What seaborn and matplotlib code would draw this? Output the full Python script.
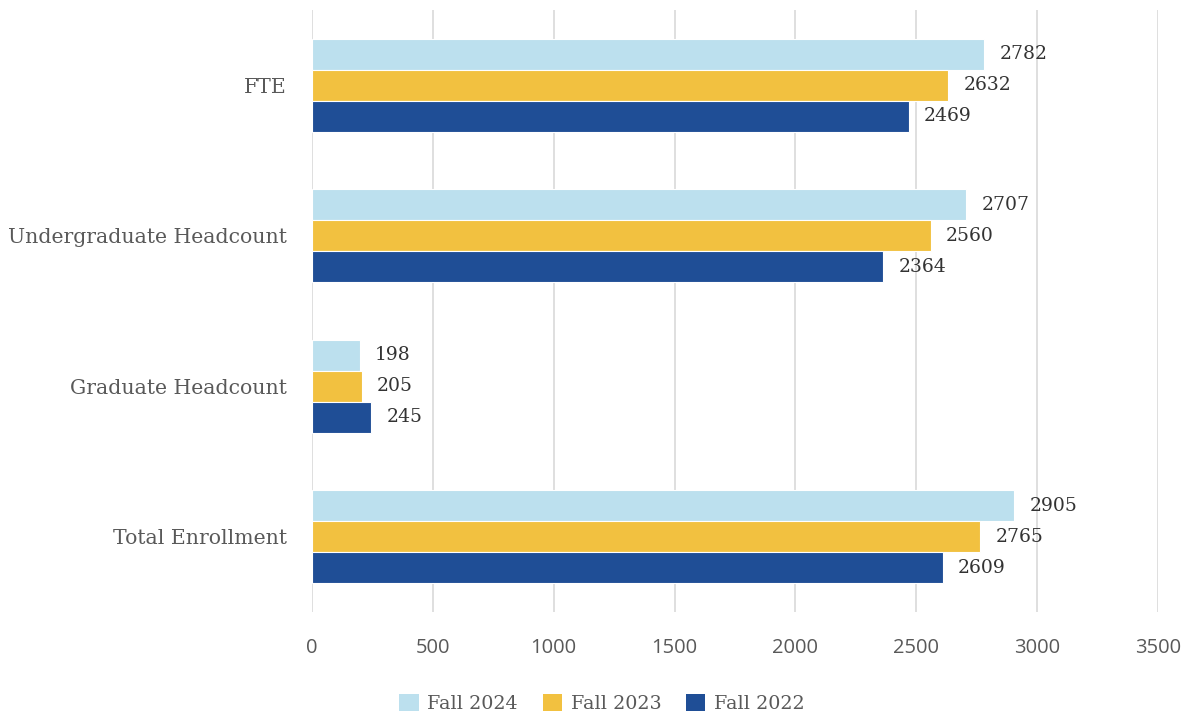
import matplotlib
matplotlib.use("Agg")
import matplotlib.pyplot as plt
import seaborn as sns
import pandas as pd
from matplotlib.patches import Patch

categories = ["FTE", "Undergraduate Headcount", "Graduate Headcount", "Total Enrollment"]
series = ["Fall 2024", "Fall 2023", "Fall 2022"]
fall_2024 = [2782, 2707, 198, 2905]
fall_2023 = [2632, 2560, 205, 2765]
fall_2022 = [2469, 2364, 245, 2609]
x_ticks = [0, 500, 1000, 1500, 2000, 2500, 3000, 3500]
colors = ["#BCE0EE", "#F2C140", "#1F4E96"]

rows = []
for s, vals in zip(series, [fall_2024, fall_2023, fall_2022]):
    for c, v in zip(categories, vals):
        rows.append({"Category": c, "Series": s, "Value": v})
df = pd.DataFrame(rows)

sns.set_theme(style="white")
serif = ["DejaVu Serif"]
sansf = ["Open Sans", "DejaVu Sans"]

fig = plt.figure(figsize=(11.85, 7.15), dpi=100)
ax = fig.add_axes([0.2633, 0.144, 0.7139, 0.842])

sns.barplot(data=df, y="Category", x="Value", hue="Series", order=categories,
            hue_order=series, palette=colors, orient="h", width=0.62,
            saturation=1, edgecolor="white", linewidth=0.8, ax=ax, legend=False)

for cont in ax.containers:
    ax.bar_label(cont, fmt="%d", padding=11, fontsize=13.5, color="#333333", family=serif)

ax.set_xlim(0, 3500)
ax.set_ylim(3.5, -0.5)
ax.set_xticks(x_ticks)
ax.set_xticklabels([str(t) for t in x_ticks], fontsize=14.5, color="#595959", family=sansf)
ax.set_yticks(range(len(categories)))
ax.set_yticklabels(categories, fontsize=14.7, color="#595959", family=serif)
ax.tick_params(axis="x", length=0, pad=19)
ax.tick_params(axis="y", length=0, pad=18)
ax.xaxis.grid(True, color="#D9D9D9", linewidth=1.2)
ax.set_axisbelow(True)
for sp in ax.spines.values():
    sp.set_visible(False)
ax.set_xlabel("")
ax.set_ylabel("")

handles = [Patch(facecolor=c, edgecolor="none") for c in colors]
fig.legend(handles, series, loc="center", bbox_to_anchor=(0.508, 0.016), ncol=3,
           frameon=False, prop={"family": serif, "size": 13.8}, handlelength=1.0,
           handleheight=1.0, columnspacing=1.3, handletextpad=0.45, labelcolor="#595959")

fig.savefig("out.png", dpi=100)
